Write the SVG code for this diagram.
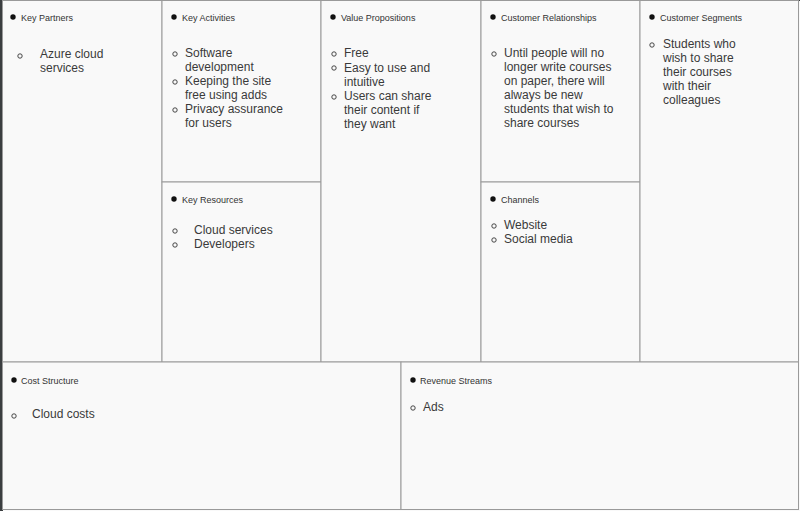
<svg xmlns="http://www.w3.org/2000/svg" width="800" height="511" viewBox="0 0 800 511">
<style>
.cell{fill:#f9f9f9;stroke:#9a9a9a;stroke-width:1}
.h{font-family:"Liberation Sans",Arial,sans-serif;font-size:9px;fill:#333}
.b{font-family:"Liberation Sans",Arial,sans-serif;font-size:12px;fill:#3a3a3a}
.dot{fill:#111}
.o{fill:none;stroke:#333;stroke-width:0.9}
</style>
<rect x="0" y="0" width="800" height="511" fill="#3b3e40"/>
<rect x="3" y="1" width="797" height="510" fill="#f9f9f9"/>
<g id="key-partners">
<rect class="cell" x="2.5" y="0.5" width="159.5" height="361.5"/>
<circle class="dot" cx="13" cy="17" r="2.7"/>
<text class="h" x="21" y="21">Key Partners</text>
<circle class="o" cx="20" cy="56" r="2.2"/>
<text class="b" x="40" y="58">Azure cloud</text>
<text class="b" x="40" y="72">services</text>
</g>
<g id="key-activities">
<rect class="cell" x="162" y="0.5" width="159" height="181.5"/>
<circle class="dot" cx="174" cy="17" r="2.7"/>
<text class="h" x="182" y="21">Key Activities</text>
<circle class="o" cx="175" cy="54" r="2.2"/>
<text class="b" x="185" y="57">Software</text>
<text class="b" x="185" y="71">development</text>
<circle class="o" cx="175" cy="82" r="2.2"/>
<text class="b" x="185" y="85">Keeping the site</text>
<text class="b" x="185" y="99">free using adds</text>
<circle class="o" cx="175" cy="110" r="2.2"/>
<text class="b" x="185" y="113">Privacy assurance</text>
<text class="b" x="185" y="127">for users</text>
</g>
<g id="key-resources">
<rect class="cell" x="162" y="182" width="159" height="180"/>
<circle class="dot" cx="174" cy="199" r="2.7"/>
<text class="h" x="182" y="203">Key Resources</text>
<circle class="o" cx="175" cy="231" r="2.2"/>
<text class="b" x="194" y="234">Cloud services</text>
<circle class="o" cx="175" cy="245" r="2.2"/>
<text class="b" x="194" y="248">Developers</text>
</g>
<g id="value-propositions">
<rect class="cell" x="321" y="0.5" width="160" height="361.5"/>
<circle class="dot" cx="333" cy="17" r="2.7"/>
<text class="h" x="341" y="21">Value Propositions</text>
<circle class="o" cx="334" cy="54" r="2.2"/>
<text class="b" x="344" y="57">Free</text>
<circle class="o" cx="334" cy="68" r="2.2"/>
<text class="b" x="344" y="72">Easy to use and</text>
<text class="b" x="344" y="86">intuitive</text>
<circle class="o" cx="334" cy="97" r="2.2"/>
<text class="b" x="344" y="100">Users can share</text>
<text class="b" x="344" y="114">their content if</text>
<text class="b" x="344" y="128">they want</text>
</g>
<g id="customer-relationships">
<rect class="cell" x="481" y="0.5" width="159" height="181.5"/>
<circle class="dot" cx="493" cy="17" r="2.7"/>
<text class="h" x="501" y="21">Customer Relationships</text>
<circle class="o" cx="494" cy="54" r="2.2"/>
<text class="b" x="504" y="57">Until people will no</text>
<text class="b" x="504" y="71">longer write courses</text>
<text class="b" x="504" y="85">on paper, there will</text>
<text class="b" x="504" y="99">always be new</text>
<text class="b" x="504" y="113">students that wish to</text>
<text class="b" x="504" y="127">share courses</text>
</g>
<g id="channels">
<rect class="cell" x="481" y="182" width="159" height="180"/>
<circle class="dot" cx="493" cy="199" r="2.7"/>
<text class="h" x="501" y="203">Channels</text>
<circle class="o" cx="494" cy="226" r="2.2"/>
<text class="b" x="504" y="229">Website</text>
<circle class="o" cx="494" cy="240" r="2.2"/>
<text class="b" x="504" y="243">Social media</text>
</g>
<g id="customer-segments">
<rect class="cell" x="640" y="0.5" width="158.5" height="361.5"/>
<circle class="dot" cx="652" cy="17" r="2.7"/>
<text class="h" x="660" y="21">Customer Segments</text>
<circle class="o" cx="652" cy="45" r="2.2"/>
<text class="b" x="663" y="48">Students who</text>
<text class="b" x="663" y="62">wish to share</text>
<text class="b" x="663" y="76">their courses</text>
<text class="b" x="663" y="90">with their</text>
<text class="b" x="663" y="104">colleagues</text>
</g>
<g id="cost-structure">
<rect class="cell" x="2.5" y="362" width="398.5" height="147.5"/>
<circle class="dot" cx="14" cy="380" r="2.7"/>
<text class="h" x="21" y="384">Cost Structure</text>
<circle class="o" cx="14" cy="416" r="2.2"/>
<text class="b" x="32" y="418">Cloud costs</text>
</g>
<g id="revenue-streams">
<rect class="cell" x="401" y="362" width="397.5" height="147.5"/>
<circle class="dot" cx="413" cy="380" r="2.7"/>
<text class="h" x="420" y="384">Revenue Streams</text>
<circle class="o" cx="413" cy="408" r="2.2"/>
<text class="b" x="423" y="411">Ads</text>
</g>
<g id="connectors"/>
</svg>
